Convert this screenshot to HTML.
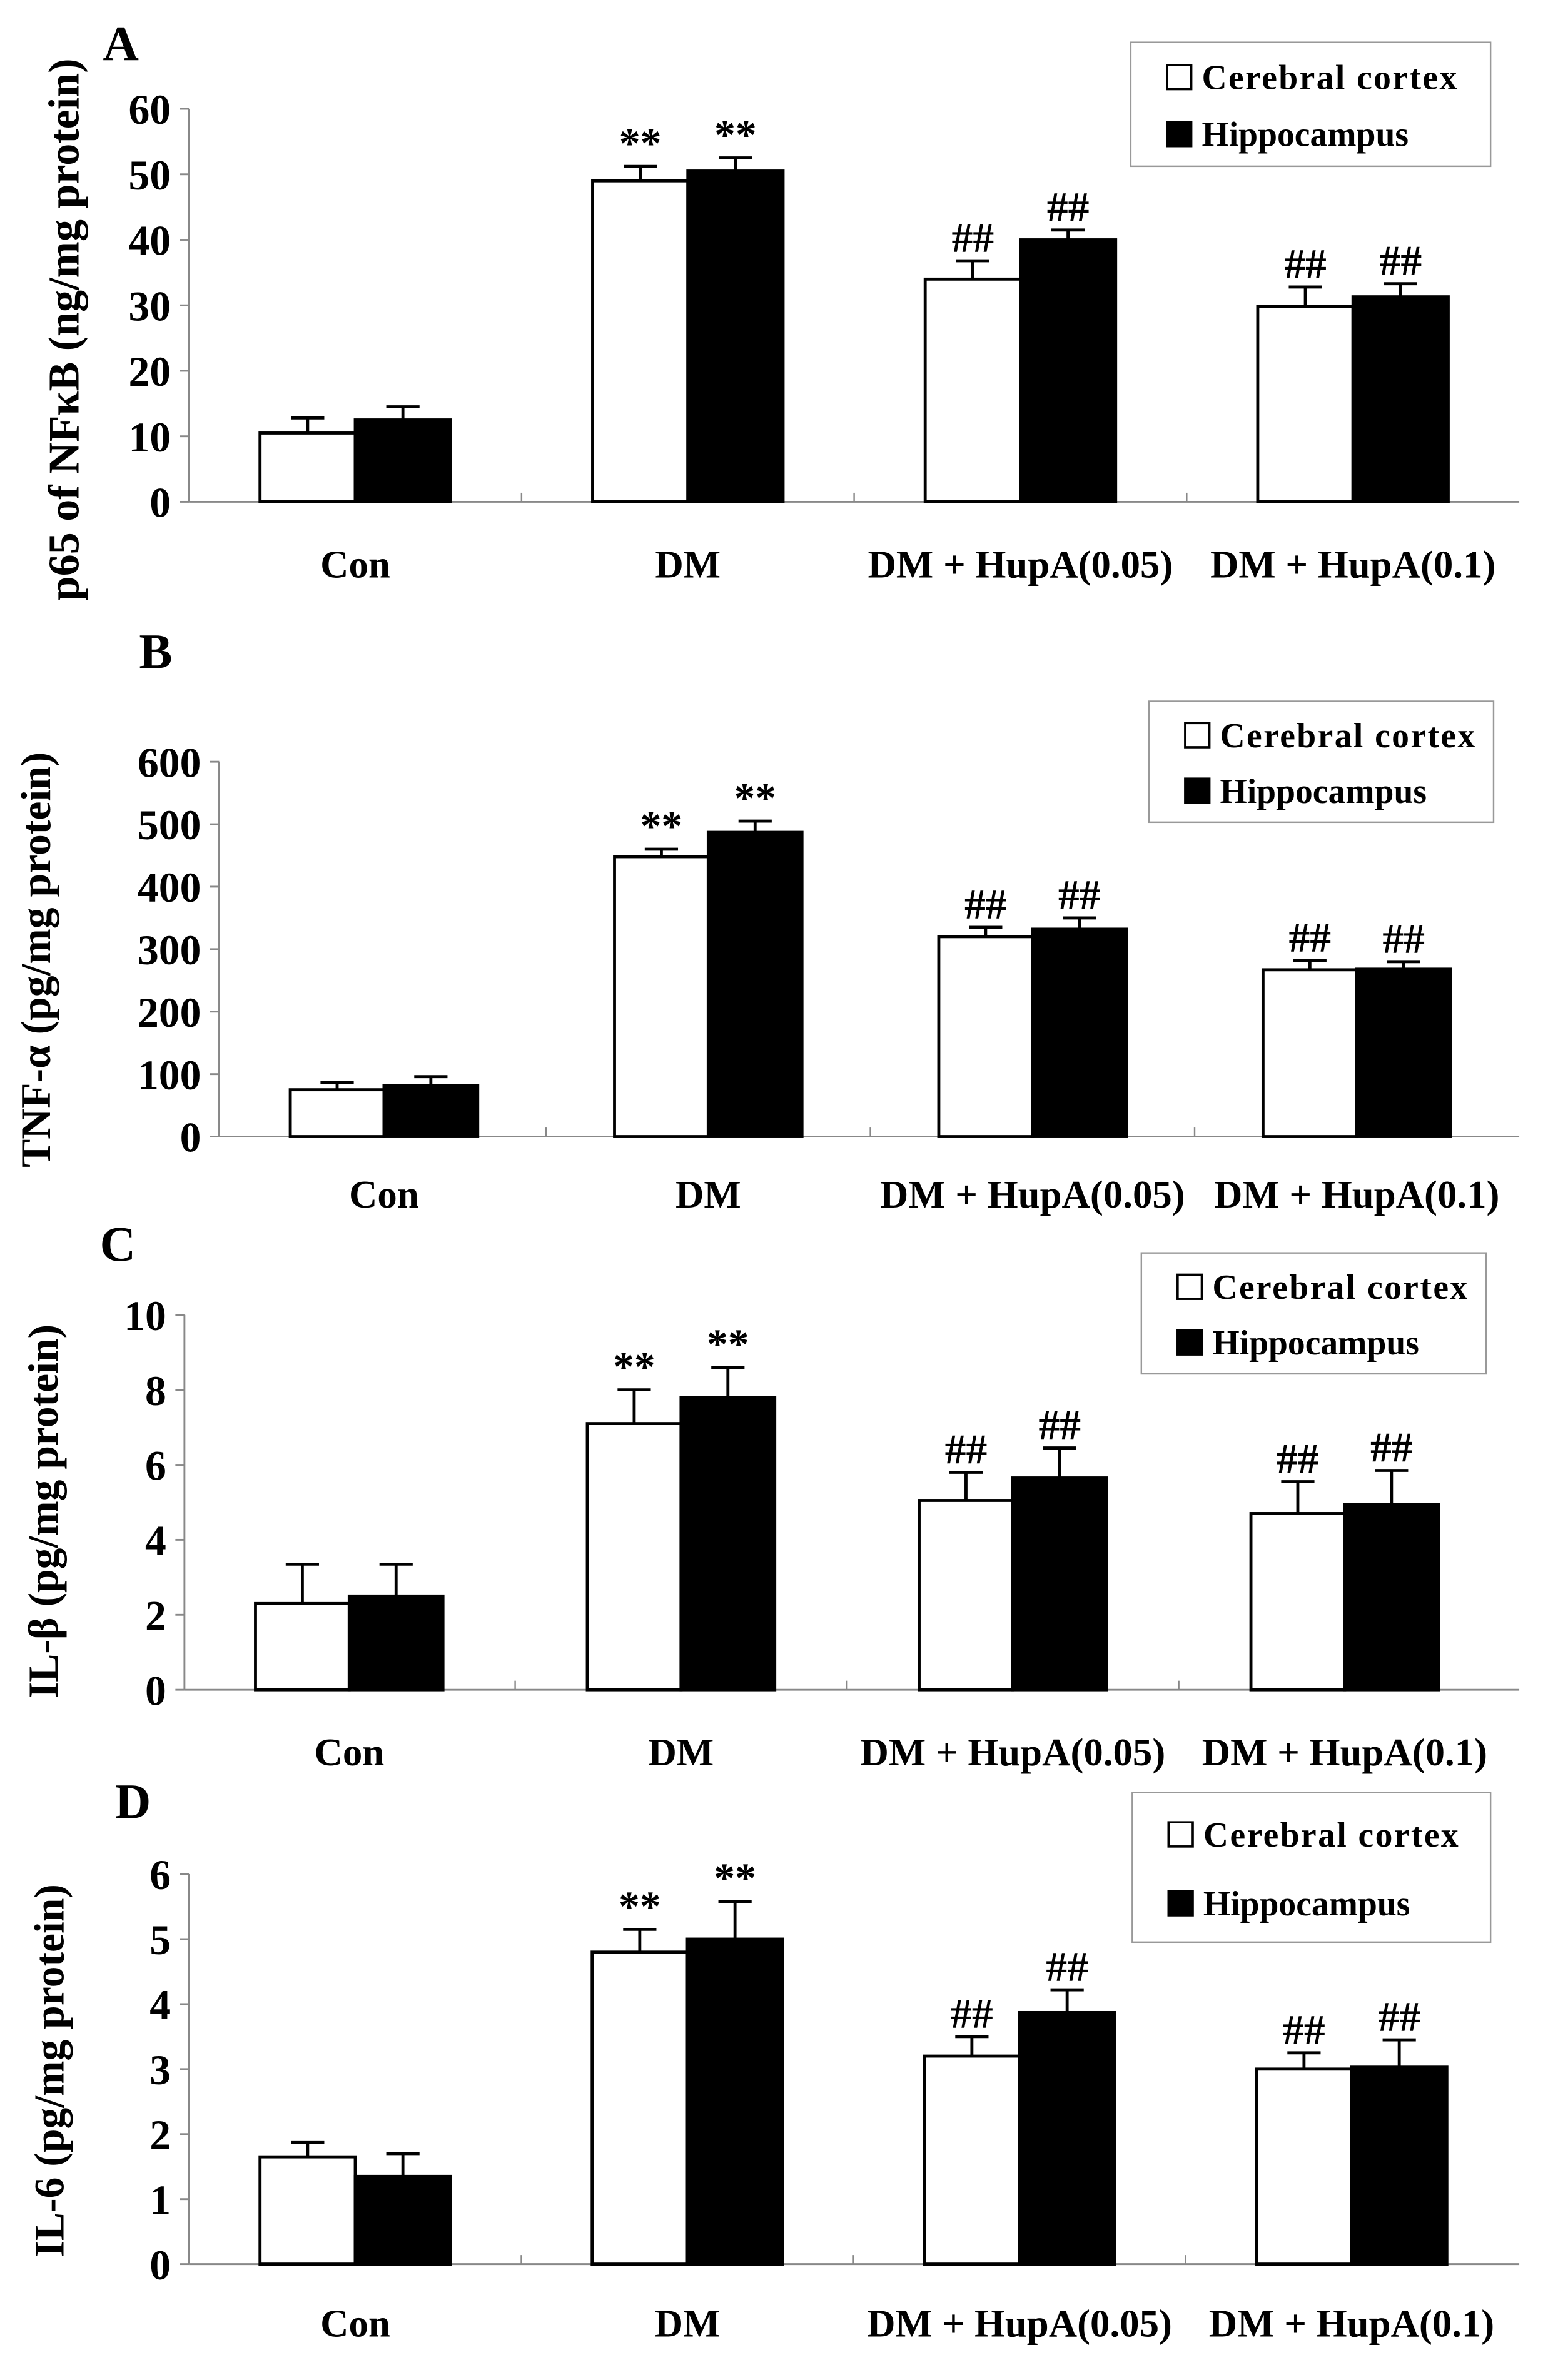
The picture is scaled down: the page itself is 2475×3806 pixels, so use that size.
<!DOCTYPE html>
<html><head><meta charset="utf-8">
<style>
html,body{margin:0;padding:0;background:#fff;}
svg{display:block;}
text{font-family:"Liberation Serif",serif;font-weight:bold;fill:#000;}
</style></head>
<body>
<svg id="fig" width="2475" height="3806" viewBox="0 0 1024 1574.7" xmlns="http://www.w3.org/2000/svg"></svg>
<script>
const categories = ["Con","DM","DM + HupA(0.05)","DM + HupA(0.1)"];
const seriesNames = ["Cerebral cortex","Hippocampus"];
// Panel A
const aCortex = [10.5,49,34,29.8];
const aCortexErr = [2.3,2.2,2.8,3];
const aHippo = [12.5,50.5,40,31.3];
const aHippoErr = [2,2,1.5,2];
const aTicks = [0,10,20,30,40,50,60];
// Panel B
const bCortex = [75,448,320,267];
const bCortexErr = [12,12,15,15];
const bHippo = [82,487,332,268];
const bHippoErr = [14,18,18,12];
const bTicks = [0,100,200,300,400,500,600];
// Panel C
const cCortex = [2.3,7.1,5.05,4.7];
const cCortexErr = [1.05,0.9,0.75,0.85];
const cHippo = [2.5,7.8,5.65,4.95];
const cHippoErr = [0.85,0.8,0.8,0.9];
const cTicks = [0,2,4,6,8,10];
// Panel D
const dCortex = [1.65,4.8,3.2,3.0];
const dCortexErr = [0.22,0.35,0.3,0.25];
const dHippo = [1.35,5.0,3.87,3.03];
const dHippoErr = [0.35,0.58,0.35,0.42];
const dTicks = [0,1,2,3,4,5,6];
const marks = ["","**","##","##"];

const NS="http://www.w3.org/2000/svg";
const svg=document.getElementById('fig');
function mk(tag,attrs,parent){const e=document.createElementNS(NS,tag);for(const k in attrs)e.setAttribute(k,attrs[k]);(parent||svg).appendChild(e);return e;}

const panels=[
 {id:'a',letter:'A',lx:68,ly:40,ax:125,y0:332,yTop:72,max:60,right:1005,bx0:172,gap:220,bw:63,catY:382,ylab:"p65 of NFκB (ng/mg protein)",yfs:29,ylx:52,yly:218,leg:[748,28,238,82],c:aCortex,ce:aCortexErr,h:aHippo,he:aHippoErr,t:aTicks},
 {id:'b',letter:'B',lx:92,ly:442,ax:145,y0:752,yTop:504,max:600,right:1005,bx0:192,gap:214.5,bw:62,catY:799,ylab:"TNF-α (pg/mg protein)",yfs:28,ylx:33,yly:635,leg:[760,464,228,80],c:bCortex,ce:bCortexErr,h:bHippo,he:bHippoErr,t:bTicks},
 {id:'c',letter:'C',lx:66,ly:834,ax:122,y0:1118,yTop:870,max:10,right:1005,bx0:169,gap:219.5,bw:62,catY:1168,ylab:"IL-β (pg/mg protein)",yfs:28,ylx:38,yly:1000,leg:[755,829,228,80],c:cCortex,ce:cCortexErr,h:cHippo,he:cHippoErr,t:cTicks},
 {id:'d',letter:'D',lx:76,ly:1203,ax:125,y0:1498,yTop:1240,max:6,right:1005,bx0:172,gap:219.7,bw:63,catY:1546,ylab:"IL-6 (pg/mg protein)",yfs:28,ylx:42,yly:1370,leg:[749,1186,237,99],c:dCortex,ce:dCortexErr,h:dHippo,he:dHippoErr,t:dTicks}
];

panels.forEach(p=>{
 const g=mk('g',{});
 
 
 const y=v=>p.y0-(v/p.max)*(p.y0-p.yTop);
 let t=mk('text',{x:p.lx,y:p.ly,'font-size':33},g);t.textContent=p.letter;
 
 let ya=mk('line',{x1:p.ax,y1:p.yTop,x2:p.ax,y2:p.y0,stroke:'#888','stroke-width':1.2},g);
 
 let xa=mk('line',{x1:p.ax,y1:p.y0,x2:p.right,y2:p.y0,stroke:'#888','stroke-width':1.2},g);
 
 p.t.forEach(v=>{
  mk('line',{x1:p.ax-6,y1:y(v),x2:p.ax,y2:y(v),stroke:'#888','stroke-width':1.2},g);
  const tl=mk('text',{x:p.ax-12,y:y(v)+10,'font-size':28,'text-anchor':'end'},g);tl.textContent=v;
  
 });
 for(let i=1;i<4;i++){const xs=p.bx0+p.bw+(i-0.5)*p.gap;mk('line',{x1:xs,y1:p.y0-6,x2:xs,y2:p.y0,stroke:'#888','stroke-width':1},g);}
 const yl=mk('text',{x:p.ylx,y:p.yly,'font-size':p.yfs,'text-anchor':'middle',transform:`rotate(-90 ${p.ylx} ${p.yly})`},g);
 yl.textContent=p.ylab;
 categories.forEach((c,i)=>{
  const x=p.bx0+i*p.gap;
  [[p.c,p.ce,'#fff'],[p.h,p.he,'#000']].forEach((s,j)=>{
   const bx=x+j*p.bw, v=s[0][i], e=s[1][i], cx=bx+p.bw/2;
   const r=mk('rect',{x:bx,y:y(v),width:p.bw,height:p.y0-y(v),fill:s[2],stroke:'#000','stroke-width':2},g);
   
   mk('line',{x1:cx,y1:y(v),x2:cx,y2:y(v+e),stroke:'#000','stroke-width':2},g);
   mk('line',{x1:cx-11,y1:y(v+e),x2:cx+11,y2:y(v+e),stroke:'#000','stroke-width':2},g);
   if(marks[i]){const m=mk('text',{x:cx,y:y(v+e)-6,'font-size':28,'font-weight':'normal','text-anchor':'middle'},g);m.textContent=marks[i];
    }
  });
  const cl=mk('text',{x:x+p.bw,y:p.catY,'font-size':26,'text-anchor':'middle'},g);cl.textContent=c;
  
 });
 const [lx,ly,lw,lh]=p.leg;
 const lg=mk('g',{},g);
 mk('rect',{x:lx,y:ly,width:lw,height:lh,fill:'#fff',stroke:'#999','stroke-width':1},lg);
 seriesNames.forEach((n,j)=>{
  const ry=ly+lh*(j===0?0.28:0.74);
  mk('rect',{x:lx+24,y:ry-8,width:16,height:16,fill:j?'#000':'#fff',stroke:'#000','stroke-width':1.5},lg);
  const tx=mk('text',{x:lx+47,y:ry+8,'font-size':23,'letter-spacing':j?0:1},lg);tx.textContent=n;
  
 });
});
</script>
</body></html>
